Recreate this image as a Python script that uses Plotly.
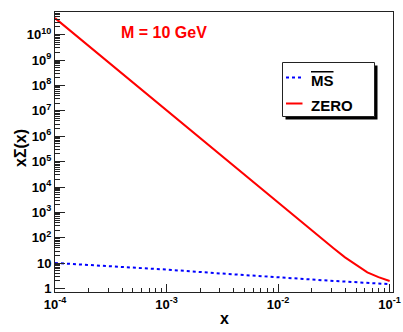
import plotly.graph_objects as go

# curve values
x_zero = [1e-4, 3.16e-4, 1e-3, 3.16e-3, 1e-2, 0.0251, 0.0316, 0.0398, 0.0501, 0.0631, 0.0794, 0.1]
y_zero = [4.47e10, 6.76e8, 1.02e7, 1.55e5, 2344, 85.1, 38.0, 17.0, 8.32, 4.37, 2.82, 2.0]

x_ms = [1e-4, 3.16e-4, 1e-3, 3.16e-3, 1e-2, 3.16e-2, 0.1]
y_ms = [10.2, 7.6, 5.6, 3.9, 2.7, 2.0, 1.5]

x_tickvals = [1e-4, 1e-3, 1e-2, 1e-1]
x_ticktext = ["10<sup>-4</sup>", "10<sup>-3</sup>", "10<sup>-2</sup>", "10<sup>-1</sup>"]
y_tickvals = [10 ** k for k in range(11)]
y_ticktext = ["1", "10"] + ["10<sup>%d</sup>" % k for k in range(2, 11)]

legend_labels = ["<b><span style='text-decoration:overline'>MS</span></b>", "<b>ZERO</b>"]

W, H = 403, 332
M = dict(l=55, r=10, t=12, b=40)


def minor_vals(k0, k1):
    return [m * 10 ** k for k in range(k0, k1) for m in range(2, 10)]


def px(x):
    return (x - M["l"]) / (W - M["l"] - M["r"])


def py(y):
    return (H - M["b"] - y) / (H - M["t"] - M["b"])


def main():
    font = "Liberation Sans, Arial, sans-serif"
    fig = go.Figure()
    fig.add_trace(go.Scatter(x=x_ms, y=y_ms, mode="lines", name=legend_labels[0],
                             line=dict(color="#0000ff", width=2, dash="dot")))
    fig.add_trace(go.Scatter(x=x_zero, y=y_zero, mode="lines", name=legend_labels[1],
                             line=dict(color="#ff0000", width=2)))

    axis_common = dict(showline=True, linecolor="#222", linewidth=1, mirror=True, showgrid=False, zeroline=False,
                       ticks="inside", tickcolor="#222", tickmode="array", automargin=False,
                       tickfont=dict(family=font, size=13, color="black", weight="bold"))
    fig.update_xaxes(type="log", range=[-4, -0.97], tickvals=x_tickvals, ticktext=x_ticktext, ticklen=8,
                     minor=dict(ticks="inside", ticklen=4, tickcolor="#222", tickmode="array", tickvals=minor_vals(-4, -1)),
                     **axis_common)
    fig.update_yaxes(type="log", range=[-0.134, 10.89], tickvals=y_tickvals, ticktext=y_ticktext, ticklen=10,
                     minor=dict(ticks="inside", ticklen=5, tickcolor="#222", tickmode="array", tickvals=minor_vals(0, 11)),
                     **axis_common)

    # axis titles placed by hand, ROOT style
    fig.add_annotation(text="<b>x</b>", xref="paper", yref="paper", x=px(224), y=py(318), showarrow=False,
                       xanchor="center", yanchor="middle", font=dict(family=font, size=16, color="black"))
    fig.add_annotation(text="<b>x\u03a3(x)</b>", xref="paper", yref="paper", x=px(20), y=py(148), showarrow=False,
                       xanchor="center", yanchor="middle", textangle=-90,
                       font=dict(family=font, size=16, color="black"))

    # hand-made legend box with shadow
    fig.add_shape(type="rect", xref="paper", yref="paper", x0=px(285.5), x1=px(377.5), y0=py(119.5), y1=py(65.5),
                  fillcolor="black", line=dict(width=0), layer="above")
    fig.add_shape(type="rect", xref="paper", yref="paper", x0=px(282.5), x1=px(374.5), y0=py(116.5), y1=py(62.5),
                  fillcolor="white", line=dict(width=1, color="#222"), layer="above")
    fig.add_shape(type="line", xref="paper", yref="paper", x0=px(286), x1=px(301), y0=py(77.5), y1=py(77.5),
                  line=dict(color="#0000ff", width=2, dash="dot"), layer="above")
    fig.add_shape(type="line", xref="paper", yref="paper", x0=px(286), x1=px(302.5), y0=py(103.5), y1=py(103.5),
                  line=dict(color="#ff0000", width=2), layer="above")
    for label, ycen in zip(legend_labels, [80, 105]):
        fig.add_annotation(text=label, xref="paper", yref="paper", x=px(308.5), y=py(ycen), xanchor="left",
                           yanchor="middle", showarrow=False, font=dict(family=font, size=15, color="black"))

    fig.add_annotation(text="<b>M = 10 GeV</b>", xref="paper", yref="paper", x=px(163.5), y=py(33),
                       xanchor="center", yanchor="middle", showarrow=False,
                       font=dict(family=font, size=16, color="#ff0000"))

    fig.update_layout(
        width=W, height=H,
        margin=M,
        paper_bgcolor="white", plot_bgcolor="white",
        showlegend=False,
    )
    # page body has a default 8px margin; drop it so the figure fills the window
    fig.write_html("out.html", config={"displayModeBar": False},
                   post_script="document.body.style.margin='0px';")


if __name__ == "__main__":
    main()
